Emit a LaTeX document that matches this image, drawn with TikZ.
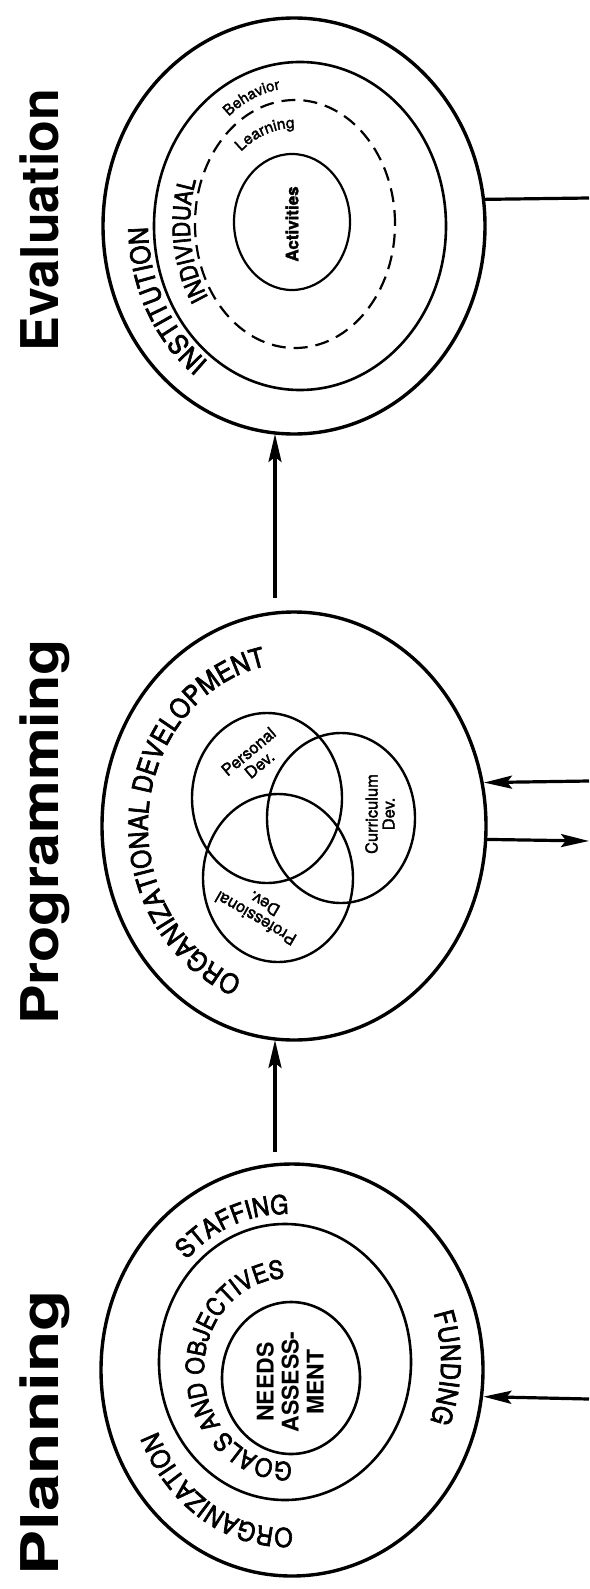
\documentclass[tikz,border=0pt]{standalone}
\usepackage{fontspec}
\setmainfont{TeX Gyre Heros}
\newfontfamily\arcfont[FakeStretch=0.9,FakeBold=2.5]{TeX Gyre Heros}
\newfontfamily\labfont[FakeBold=2]{TeX Gyre Heros}
\usetikzlibrary{shapes.geometric,arrows.meta,decorations.text}
\begin{document}
\begin{tikzpicture}[x=1pt,y=1pt,
  ring/.style={draw, ellipse, inner sep=0pt, outer sep=0pt, line width=2.6pt},
  bigring/.style={ring, line width=3.4pt},
  venn/.style={ring, line width=2.4pt},
  conn/.style={line width=3.2pt},
  arr/.style={conn, -{Stealth[length=28pt,width=13pt,inset=5pt]}},
  title/.style={font=\fontsize{52}{52}\selectfont\bfseries, transform shape, rotate=90, anchor=base, inner sep=0pt},
  lab/.style={font=\labfont\fontsize{16.5}{17}\selectfont, align=center, inner sep=0pt},
  arctext/.style={decorate, decoration={text along path, text align=center, text={#1}}}
]
\useasboundingbox (0,0) rectangle (589,-1589);

% ---------------- Titles ----------------
\node[title] (tE) at (58,-220) {Evaluation};
\node[title, xscale=1.14] (tP) at (58,-832) {Programming};
\node[title, xscale=1.3] (tL) at (58,-1433) {Planning};

% ---------------- Evaluation ----------------
\node[bigring, minimum width=382pt, minimum height=416pt] (Eo) at (294,-226) {};
\node[ring, minimum width=292pt, minimum height=328pt] (Ei) at (300,-226) {};
\node[ring, line width=2.2pt, dash pattern=on 14pt off 8pt, minimum width=200pt, minimum height=248pt] (Ed) at (295,-224) {};
\node[ring, line width=2.2pt, minimum width=116pt, minimum height=136pt] (Ea) at (292,-222) {};
\node[font=\labfont\fontsize{17}{17}\selectfont\bfseries, rotate=90, inner sep=0pt] (tAct) at (292,-224) {Activities};

\path[arctext={|\arcfont\fontsize{27}{27}\selectfont|INSTITUTION}]
  (300,-226) ++(255:152 and 170) arc[start angle=255, end angle=160, x radius=152pt, y radius=170pt];
\path[arctext={|\arcfont\fontsize{24}{24}\selectfont|INDIVIDUAL}]
  (295,-224) ++(240:105 and 130) arc[start angle=240, end angle=136, x radius=105pt, y radius=130pt];
\path[arctext={|\labfont\fontsize{15}{15}\selectfont|Behavior}]
  (295,-224) ++(140:108 and 136) arc[start angle=140, end angle=84, x radius=108pt, y radius=136pt];
\path[arctext={|\labfont\fontsize{15.5}{15.5}\selectfont|Learning}]
  (295,-224) ++(145:82 and 96) arc[start angle=145, end angle=75, x radius=82pt, y radius=96pt];

\coordinate (eR) at (589,-198);
\draw[conn] (Eo.8.4) -- (eR);

% ---------------- Programming ----------------
\node[bigring, minimum width=384pt, minimum height=428pt] (Po) at (294,-826) {};
\node[venn, minimum width=150pt, minimum height=170pt] (Vp) at (267,-798) {};
\node[venn, minimum width=148pt, minimum height=170pt] (Vc) at (341,-818) {};
\node[venn, minimum width=150pt, minimum height=168pt] (Vr) at (278,-878) {};
\node[lab, rotate=40] (tPers) at (254,-758) {Personal\\Dev.};
\node[lab, rotate=90] (tCurr) at (380,-814) {Curriculum\\Dev.};
\node[lab, rotate=150] (tProf) at (260,-911) {Professional\\Dev.};

\path[arctext={|\arcfont\fontsize{27}{27}\selectfont|ORGANIZATIONAL DEVELOPMENT}]
  (294,-826) ++(270:146 and 163) arc[start angle=270, end angle=80, x radius=146pt, y radius=163pt];

\coordinate (pIn) at (589,-781);
\coordinate (pOut) at (589,-841);
\draw[arr, shorten >=2pt] (pIn) -- (Po.13.5);
\draw[arr] (Po.-4.5) -- (pOut);

% arrows between stages
\coordinate (a1) at (275,-598);
\draw[arr] (a1) -- (a1 |- Eo.south);
\coordinate (a2) at (275,-1152);
\draw[arr] (a2) -- (a2 |- Po.south);

% ---------------- Planning ----------------
\node[bigring, minimum width=382pt, minimum height=412pt] (Lo) at (292,-1370) {};
\node[ring, minimum width=252pt, minimum height=276pt] (Li) at (285,-1362) {};
\node[ring, minimum width=138pt, minimum height=152pt] (Ln) at (291,-1378) {};
\node[font=\fontsize{23}{25}\selectfont\bfseries, rotate=90, align=center, inner sep=0pt] (tNeeds) at (290,-1382) {NEEDS\\ASSESS-\\MENT};

\path[arctext={|\arcfont\fontsize{26}{26}\selectfont|STAFFING}]
  (285,-1362) ++(150:136 and 148) arc[start angle=150, end angle=74, x radius=136pt, y radius=148pt];
\path[arctext={|\arcfont\fontsize{27}{27}\selectfont|FUNDING}]
  (285,-1362) ++(40:156 and 160) arc[start angle=40, end angle=-44, x radius=156pt, y radius=160pt];
\path[arctext={|\arcfont\fontsize{26}{26}\selectfont|ORGANIZATION}]
  (285,-1362) ++(290:140 and 166) arc[start angle=290, end angle=190, x radius=140pt, y radius=166pt];
\path[arctext={|\arcfont\fontsize{25}{25}\selectfont|GOALS AND OBJECTIVES}]
  (288,-1370) ++(290:84 and 92) arc[start angle=290, end angle=75, x radius=84pt, y radius=92pt];

\coordinate (lIn) at (589,-1399);
\draw[arr, shorten >=2pt] (lIn) -- (Lo.-8.7);
\end{tikzpicture}
\end{document}
